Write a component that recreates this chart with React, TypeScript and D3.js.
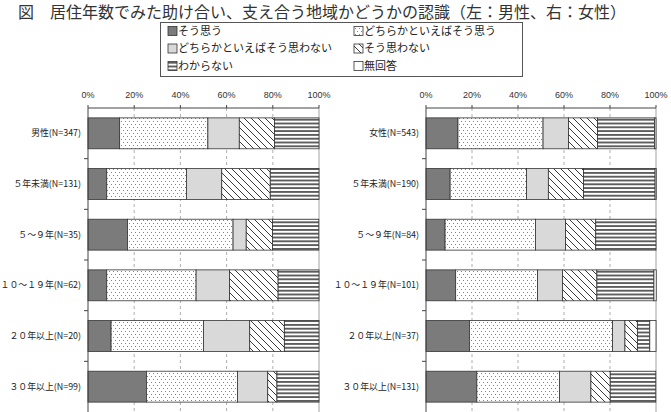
import React from "react";
import * as d3 from "d3";

// 回答区分
const categories = [
  "そう思う",
  "どちらかといえばそう思う",
  "どちらかといえばそう思わない",
  "そう思わない",
  "わからない",
  "無回答",
];

const maleLabels = ["男性(N=347)", "５年未満(N=131)", "５～９年(N=35)", "１０～１９年(N=62)", "２０年以上(N=20)", "３０年以上(N=99)"];
const femaleLabels = ["女性(N=543)", "５年未満(N=190)", "５～９年(N=84)", "１０～１９年(N=101)", "２０年以上(N=37)", "３０年以上(N=131)"];

// 男性 (%)
const maleYes = [13.7, 8.1, 17.1, 8.1, 10.0, 25.3];
const maleRatherYes = [38.2, 34.5, 45.7, 38.7, 40.0, 39.4];
const maleRatherNo = [13.6, 15.3, 5.7, 14.5, 20.0, 13.1];
const maleNo = [15.2, 21.0, 11.4, 21.0, 15.0, 4.0];
const maleUnknown = [19.3, 21.1, 20.0, 17.7, 15.0, 18.2];
const maleNoAnswer = [0, 0, 0, 0, 0, 0];

// 女性 (%)
const femaleYes = [13.9, 10.5, 8.3, 12.9, 18.9, 22.1];
const femaleRatherYes = [37.0, 33.2, 39.3, 35.6, 62.2, 35.9];
const femaleRatherNo = [11.1, 9.5, 13.1, 10.9, 5.4, 13.7];
const femaleNo = [12.6, 15.3, 13.1, 14.9, 5.4, 8.4];
const femaleUnknown = [24.8, 31.1, 26.2, 24.8, 5.4, 19.8];
const femaleNoAnswer = [0.6, 0.5, 0, 1.0, 2.7, 0];

const tickValues = [0, 20, 40, 60, 80, 100];

const fills = ["#7b7b7b", "url(#dots)", "#d9d9d9", "url(#diag)", "url(#hlines)", "#ffffff"];

const FONT = "'Noto Sans CJK JP', 'Noto Sans', sans-serif";
const TOP = 108;
const BOTTOM = 412;

function Panel({ labels, series, left, right }: { labels: string[]; series: number[][]; left: number; right: number }) {
  const x = d3.scaleLinear().domain([0, 100]).range([left, right]);
  const y = d3
    .scaleBand<string>()
    .domain(labels)
    .range([TOP, BOTTOM])
    .paddingInner(0.39)
    .paddingOuter(0.195);

  const rows = labels.map((label, i) => {
    const r: any = { label };
    categories.forEach((c, k) => (r[c] = series[k][i]));
    return r;
  });
  const stacked = d3.stack<any>().keys(categories)(rows);

  const gap = (y.step() * y.paddingInner()) / 2;
  const boundaries = labels.slice(1).map((l) => (y(l) as number) - gap);

  return (
    <g>
      {/* grid */}
      {tickValues.slice(1, 5).map((t) => (
        <line key={t} x1={x(t)} x2={x(t)} y1={TOP} y2={BOTTOM} stroke="#9a9a9a" strokeWidth={0.8} strokeDasharray="3,3" />
      ))}
      <line x1={x(100)} x2={x(100)} y1={TOP} y2={BOTTOM} stroke="#8a8a8a" strokeWidth={0.8} />

      {/* bars */}
      {stacked.map((layer, k) => (
        <g key={layer.key}>
          {layer.map((d, i) =>
            d[1] - d[0] > 0 ? (
              <rect
                key={i}
                x={x(d[0])}
                y={y(labels[i])}
                width={x(d[1]) - x(d[0])}
                height={y.bandwidth()}
                fill={fills[k]}
                stroke="#333"
                strokeWidth={0.8}
              />
            ) : null
          )}
        </g>
      ))}

      {/* top axis */}
      <line x1={left} x2={right} y1={TOP} y2={TOP} stroke="#444" strokeWidth={1} />
      {tickValues.map((t) => (
        <g key={t}>
          <line x1={x(t)} x2={x(t)} y1={TOP - 3} y2={TOP} stroke="#444" strokeWidth={1} />
          <text x={x(t)} y={98} textAnchor="middle" fontSize={9} fontFamily="'Liberation Sans', Arial, sans-serif" fill="#333">
            {t}%
          </text>
        </g>
      ))}

      {/* left axis */}
      <line x1={left} x2={left} y1={TOP} y2={BOTTOM} stroke="#444" strokeWidth={1} />
      {boundaries.map((b, i) => (
        <line key={i} x1={left - 4} x2={left} y1={b} y2={b} stroke="#444" strokeWidth={1} />
      ))}
      {labels.map((l) => (
        <text
          key={l}
          x={left - 7}
          y={(y(l) as number) + y.bandwidth() / 2}
          dy="0.35em"
          textAnchor="end"
          fontSize={8.9}
          fontFamily={FONT}
          fill="#222"
        >
          {l}
        </text>
      ))}
    </g>
  );
}

function Legend() {
  const cols = [168, 354];
  const rowsY = [31, 48.5, 66];
  return (
    <g>
      <rect x={160.5} y={22.5} width={362} height={54} fill="#fff" stroke="#555" strokeWidth={1} />
      {categories.map((c, i) => {
        const cx = cols[i % 2];
        const cy = rowsY[Math.floor(i / 2)];
        return (
          <g key={c}>
            <rect x={cx} y={cy - 4.5} width={9} height={9} fill={fills[i]} stroke="#333" strokeWidth={0.8} />
            <text x={cx + 10} y={cy} dy="0.36em" fontSize={11} fontFamily={FONT} fill="#222">
              {c}
            </text>
          </g>
        );
      })}
    </g>
  );
}

export default function App() {
  const male = [maleYes, maleRatherYes, maleRatherNo, maleNo, maleUnknown, maleNoAnswer];
  const female = [femaleYes, femaleRatherYes, femaleRatherNo, femaleNo, femaleUnknown, femaleNoAnswer];
  return (
    <svg width={671} height={412} style={{ position: "absolute", left: 0, top: 0, background: "#fff" }}>
      <defs>
        <pattern id="dots" patternUnits="userSpaceOnUse" width={4} height={6}>
          <rect width={4} height={6} fill="#fff" />
          <rect x={1} y={1} width={0.9} height={0.9} fill="#666" />
          <rect x={3} y={4} width={0.9} height={0.9} fill="#666" />
        </pattern>
        <pattern id="diag" patternUnits="userSpaceOnUse" width={7} height={7}>
          <rect width={7} height={7} fill="#fff" />
          <path d="M0,0 L7,7 M-2,5 L2,9 M5,-2 L9,2" stroke="#222" strokeWidth={0.9} />
        </pattern>
        <pattern id="hlines" patternUnits="userSpaceOnUse" width={4} height={3.8}>
          <rect width={4} height={3.8} fill="#fff" />
          <line x1={0} x2={4} y1={1.9} y2={1.9} stroke="#111" strokeWidth={1.3} />
        </pattern>
      </defs>
      <text x={18} y={17.5} fontSize={16} fontFamily={FONT} fill="#333">
        図　居住年数でみた助け合い、支え合う地域かどうかの認識（左：男性、右：女性）
      </text>
      <Legend />
      <Panel labels={maleLabels} series={male} left={88} right={319} />
      <Panel labels={femaleLabels} series={female} left={426} right={656} />
    </svg>
  );
}
